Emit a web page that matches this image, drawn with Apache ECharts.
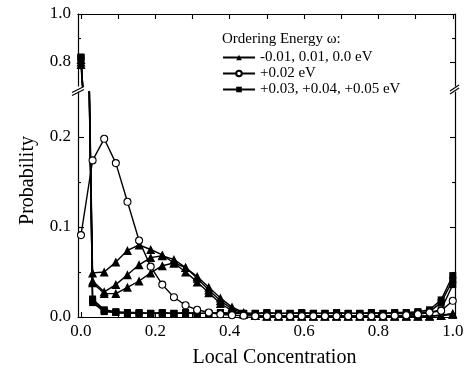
<!DOCTYPE html>
<html>
<head>
<meta charset="utf-8">
<script src="https://cdn.jsdelivr.net/npm/echarts@6/dist/echarts.min.js"></script>
<style>
  html, body { margin: 0; padding: 0; background: #fff; }
  #chart { width: 473px; height: 374px; }
</style>
</head>
<body>
<div id="chart"></div>
<script>
// Local concentration bins (x values)
const concentration = [0, 0.03125, 0.0625, 0.09375, 0.125, 0.15625, 0.1875, 0.21875, 0.25, 0.28125,
  0.3125, 0.34375, 0.375, 0.40625, 0.4375, 0.46875, 0.5, 0.53125, 0.5625, 0.59375,
  0.625, 0.65625, 0.6875, 0.71875, 0.75, 0.78125, 0.8125, 0.84375, 0.875, 0.90625,
  0.9375, 0.96875, 1];

// Probability per ordering energy
const triA = [0.81, 0.049, 0.050, 0.061, 0.074, 0.080, 0.075, 0.069, 0.060, 0.050,
  0.039, 0.027, 0.015, 0.007, 0.003, 0.002, 0.001, 0.001, 0.001, 0.001,
  0.001, 0.001, 0.001, 0.001, 0.001, 0.001, 0.001, 0.001, 0.001, 0.001,
  0.001, 0.002, 0.004];
const triB = [0.80, 0.040, 0.028, 0.036, 0.047, 0.058, 0.066, 0.068, 0.064, 0.055,
  0.043, 0.030, 0.018, 0.009, 0.004, 0.002, 0.001, 0.001, 0.001, 0.001,
  0.001, 0.001, 0.001, 0.001, 0.001, 0.001, 0.001, 0.001, 0.001, 0.001,
  0.001, 0.002, 0.003];
const triC = [0.79, 0.038, 0.026, 0.026, 0.033, 0.040, 0.049, 0.057, 0.060, 0.055,
  0.045, 0.033, 0.021, 0.011, 0.005, 0.002, 0.001, 0.001, 0.001, 0.001,
  0.001, 0.001, 0.001, 0.001, 0.001, 0.001, 0.001, 0.001, 0.001, 0.001,
  0.001, 0.002, 0.003];
const circ = [0.091, 0.174, 0.198, 0.171, 0.128, 0.085, 0.056, 0.036, 0.022, 0.013,
  0.008, 0.005, 0.003, 0.002, 0.0015, 0.001, 0.001, 0.001, 0.001, 0.001,
  0.001, 0.001, 0.001, 0.001, 0.001, 0.001, 0.001, 0.0015, 0.002, 0.003,
  0.005, 0.007, 0.018];
const sqA = [0.82, 0.020, 0.008, 0.006, 0.005, 0.005, 0.004, 0.005, 0.004, 0.005,
  0.004, 0.004, 0.005, 0.004, 0.004, 0.004, 0.005, 0.004, 0.004, 0.005,
  0.004, 0.004, 0.005, 0.004, 0.004, 0.005, 0.004, 0.005, 0.005, 0.006,
  0.008, 0.019, 0.046];
const sqB = [0.82, 0.018, 0.007, 0.005, 0.004, 0.004, 0.004, 0.004, 0.004, 0.004,
  0.004, 0.004, 0.004, 0.004, 0.004, 0.004, 0.004, 0.004, 0.004, 0.004,
  0.004, 0.004, 0.004, 0.004, 0.004, 0.004, 0.004, 0.004, 0.004, 0.005,
  0.006, 0.016, 0.041];
const sqC = [0.815, 0.016, 0.006, 0.005, 0.004, 0.004, 0.004, 0.004, 0.004, 0.004,
  0.004, 0.004, 0.004, 0.004, 0.004, 0.004, 0.004, 0.004, 0.004, 0.004,
  0.004, 0.004, 0.004, 0.004, 0.004, 0.004, 0.004, 0.004, 0.004, 0.004,
  0.005, 0.008, 0.036];

// Tick positions and labels
const xLabelTicks = [0, 0.2, 0.4, 0.6, 0.8, 1.0];
const xTicks = [0, 0.1, 0.2, 0.3, 0.4, 0.5, 0.6, 0.7, 0.8, 0.9, 1.0];
const upperMajor = [0.8, 1.0];
const upperMinor = [0.9];
const lowerMajor = [0, 0.1, 0.2];
const lowerMinor = [0.05, 0.15];

const legendNames = ['-0.01, 0.01, 0.0 eV', '+0.02 eV', '+0.03, +0.04, +0.05 eV'];

const FONT = 'Liberation Serif, Times New Roman, serif';
const BLACK = '#000';

const chart = echarts.init(document.getElementById('chart'), null, { renderer: 'canvas' });

const pairs = ys => concentration.map((x, i) => [x, ys[i]]);

const groups = [
  { name: legendNames[0], data: triA, symbol: 'triangle', size: 9, fill: BLACK },
  { name: legendNames[0], data: triB, symbol: 'triangle', size: 9, fill: BLACK },
  { name: legendNames[0], data: triC, symbol: 'triangle', size: 9, fill: BLACK },
  { name: legendNames[2], data: sqA, symbol: 'rect', size: 7, fill: BLACK },
  { name: legendNames[2], data: sqB, symbol: 'rect', size: 7, fill: BLACK },
  { name: legendNames[2], data: sqC, symbol: 'rect', size: 7, fill: BLACK },
  { name: legendNames[1], data: circ, symbol: 'circle', size: 7, fill: '#fff' }
];

const series = [];
// upper panel (0.7–1.0) and lower panel (0–0.25) share the same data
[[0, 0], [1, 4]].forEach(([xi, yi]) => {
  groups.forEach(g => {
    series.push({
      type: 'line',
      name: g.name,
      xAxisIndex: xi,
      yAxisIndex: yi,
      data: pairs(g.data),
      symbol: g.symbol,
      symbolSize: g.size,
      showAllSymbol: true,
      clip: true,
      animation: false,
      lineStyle: { color: BLACK, width: 1.4 },
      itemStyle: { color: g.fill, borderColor: BLACK, borderWidth: g.fill === '#fff' ? 1.1 : 0 },
      emphasis: { disabled: true }
    });
  });
});

const baseX = {
  type: 'value', min: -0.008, max: 1.006,
  splitLine: { show: false },
  axisLine: { onZero: false, lineStyle: { color: BLACK, width: 1.2 } }
};

function yAx(grid, pos, min, max, ticks, len, opts) {
  return Object.assign({
    type: 'value', gridIndex: grid, position: pos, min: min, max: max,
    splitLine: { show: false },
    axisLine: { show: true, onZero: false, lineStyle: { color: BLACK, width: 1.2 } },
    axisTick: { show: true, inside: true, length: len, customValues: ticks, lineStyle: { color: BLACK, width: 1.1 } },
    axisLabel: { show: false }
  }, opts || {});
}

const labelStyle = { show: true, color: BLACK, fontFamily: FONT, fontSize: 17, margin: 7 };

const option = {
  animation: false,
  backgroundColor: '#fff',
  title: {
    text: 'Ordering Energy \u03c9:',
    left: 222, top: 32, padding: 0,
    textStyle: { fontFamily: FONT, fontSize: 15, fontWeight: 'normal', color: BLACK }
  },
  legend: {
    data: legendNames,
    orient: 'vertical',
    left: 222, top: 50, padding: 0,
    itemWidth: 32, itemHeight: 7, itemGap: 1,
    selectedMode: false,
    textStyle: { fontFamily: FONT, fontSize: 15, color: BLACK }
  },
  grid: [
    { left: 78, right: 18, top: 14, height: 72 },
    { left: 78, right: 18, top: 92, height: 225 }
  ],
  xAxis: [
    Object.assign({}, baseX, {
      gridIndex: 0, position: 'top',
      axisTick: { show: true, inside: true, length: 5, customValues: xTicks, lineStyle: { color: BLACK, width: 1.1 } },
      axisLabel: { show: false }
    }),
    Object.assign({}, baseX, {
      gridIndex: 1, position: 'bottom',
      axisTick: { show: true, inside: true, length: 5, customValues: xTicks, lineStyle: { color: BLACK, width: 1.1 } },
      axisLabel: Object.assign({}, labelStyle, {
        customValues: xLabelTicks, margin: 6,
        formatter: v => v.toFixed(1)
      }),
      name: 'Local Concentration',
      nameLocation: 'middle',
      nameGap: 31,
      nameTextStyle: { fontFamily: FONT, fontSize: 20, color: BLACK, padding: [0, 0, 0, 16] }
    })
  ],
  yAxis: [
    yAx(0, 'left', 0.7, 1.0, upperMajor, 6, {
      axisLabel: Object.assign({}, labelStyle, { customValues: upperMajor, formatter: v => v.toFixed(1) })
    }),
    yAx(0, 'left', 0.7, 1.0, upperMinor, 3, { axisLine: { show: false, onZero: false } }),
    yAx(0, 'right', 0.7, 1.0, upperMajor, 5),
    yAx(0, 'right', 0.7, 1.0, upperMinor, 3, { axisLine: { show: false, onZero: false } }),
    yAx(1, 'left', 0, 0.25, lowerMajor, 6, {
      axisLabel: Object.assign({}, labelStyle, { customValues: lowerMajor, formatter: v => v.toFixed(1) }),
      name: 'Probability',
      nameLocation: 'middle',
      nameGap: 40,
      nameTextStyle: { fontFamily: FONT, fontSize: 20, color: BLACK, padding: [0, 0, 0, 48] }
    }),
    yAx(1, 'left', 0, 0.25, lowerMinor, 3, { axisLine: { show: false, onZero: false } }),
    yAx(1, 'right', 0, 0.25, lowerMajor, 5),
    yAx(1, 'right', 0, 0.25, lowerMinor, 3, { axisLine: { show: false, onZero: false } })
  ],
  graphic: [
    // axis break marks on both sides
    { type: 'line', shape: { x1: 72, y1: 92.5, x2: 84, y2: 86.5 }, style: { stroke: BLACK, lineWidth: 1.2 } },
    { type: 'line', shape: { x1: 72, y1: 95.5, x2: 84, y2: 89.5 }, style: { stroke: BLACK, lineWidth: 1.2 } },
    { type: 'line', shape: { x1: 450, y1: 91, x2: 459, y2: 85 }, style: { stroke: BLACK, lineWidth: 1.2 } },
    { type: 'line', shape: { x1: 450, y1: 94, x2: 459, y2: 88 }, style: { stroke: BLACK, lineWidth: 1.2 } }
  ],
  series: series
};

chart.setOption(option);
</script>
</body>
</html>
